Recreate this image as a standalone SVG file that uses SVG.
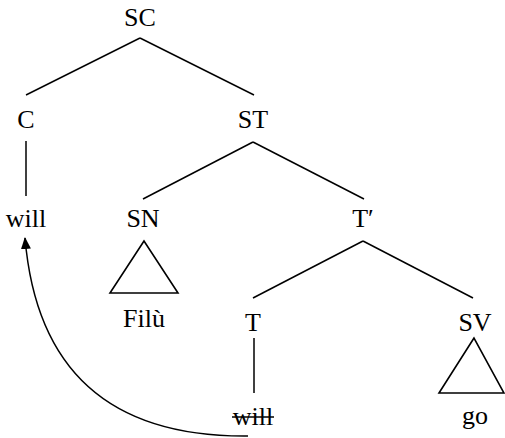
<svg xmlns="http://www.w3.org/2000/svg" width="505" height="438" viewBox="0 0 505 438">
  <style>
    .lbl { font-family: "Liberation Serif", "Times New Roman", serif; font-size: 26px; fill: #000; text-anchor: middle; }
    .edge { stroke: #000; stroke-width: 1.5; fill: none; }
    .tri { stroke: #000; stroke-width: 1.6; fill: none; }
  </style>
  <defs>
    <marker id="arrowhead" markerWidth="12" markerHeight="10" refX="11" refY="5" orient="auto" markerUnits="userSpaceOnUse">
      <path d="M0,0 L12,5 L0,10 Z" fill="#000"/>
    </marker>
  </defs>

  <!-- tree branches -->
  <g id="connectors">
    <line class="edge" x1="140" y1="38" x2="26" y2="95"/>
    <line class="edge" x1="140" y1="38" x2="254" y2="95"/>
    <line class="edge" x1="26" y1="141" x2="26" y2="196"/>
    <line class="edge" x1="253" y1="142" x2="143" y2="199"/>
    <line class="edge" x1="253" y1="142" x2="364" y2="199"/>
    <line class="edge" x1="363" y1="241" x2="253" y2="298"/>
    <line class="edge" x1="363" y1="241" x2="473" y2="298"/>
    <line class="edge" x1="254" y1="338" x2="254" y2="393"/>
    <!-- head movement of "will" from T to C -->
    <path class="edge" d="M248,436 Q42,438 25,238" marker-end="url(#arrowhead)"/>
  </g>

  <g id="node-SC"><text class="lbl" x="140" y="26">SC</text></g>
  <g id="node-C"><text class="lbl" x="26" y="128">C</text></g>
  <g id="node-ST"><text class="lbl" x="253" y="128">ST</text></g>
  <g id="node-will-C"><text class="lbl" x="26" y="227">will</text></g>
  <g id="node-SN">
    <text class="lbl" x="143" y="227">SN</text>
    <polygon class="tri" points="144,241 110,293 178,293"/>
    <text class="lbl" x="144" y="327">Filù</text>
  </g>
  <g id="node-Tbar"><text class="lbl" x="363" y="227">T′</text></g>
  <g id="node-T"><text class="lbl" x="253" y="331">T</text></g>
  <g id="node-SV">
    <text class="lbl" x="475" y="331">SV</text>
    <polygon class="tri" points="474,338 439,393 504,393"/>
    <text class="lbl" x="475" y="424">go</text>
  </g>
  <g id="node-will-T">
    <text class="lbl" x="253" y="425">will</text>
    <line class="edge" x1="232" y1="417" x2="274" y2="417"/>
  </g>
</svg>
